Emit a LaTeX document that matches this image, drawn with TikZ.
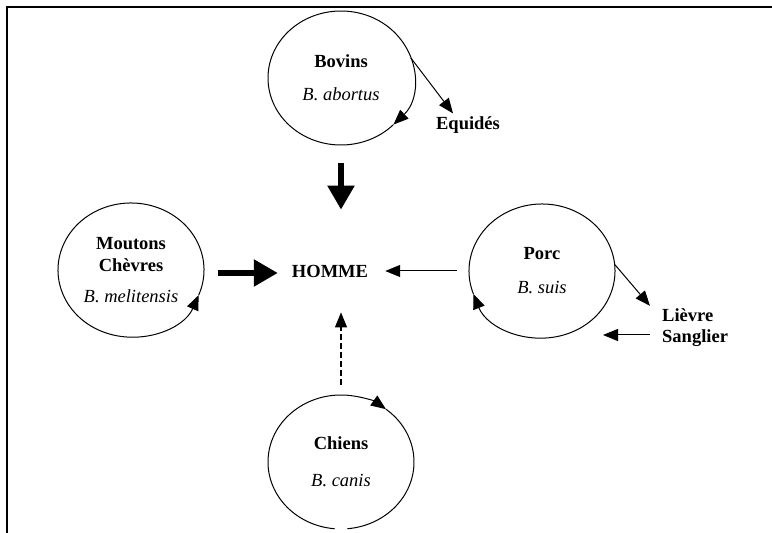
\documentclass[tikz,border=0pt]{standalone}
\usepackage{fontspec}
\setmainfont{Liberation Serif}
\usetikzlibrary{arrows.meta,shapes.geometric,positioning}
\newcommand{\species}[1]{{\mdseries\itshape #1}}

\begin{document}
\begin{tikzpicture}[x=1pt,y=1pt,
    host/.style={ellipse,minimum width=146pt,minimum height=134pt,inner sep=0pt,align=center,
                 font=\fontsize{18.5}{22}\selectfont\bfseries},
    lbl/.style={inner sep=3pt,font=\fontsize{18.5}{21}\selectfont\bfseries},
    ring/.style={line width=1pt,-{Triangle[length=15pt,width=12pt]}},
    bigarrow/.style={line width=5.5pt,-{Triangle[length=24pt,width=26pt]}},
    smallarrow/.style={line width=1pt,-{Triangle[length=15pt,width=12pt]}}]
                        \useasboundingbox (0,0) rectangle (772,533);
                        \draw[line width=2.5pt] (7,0) -- (7,526) -- (772,526);
                        % les reservoirs
                        \node[host] (bovins) at (341,455) {Bovins\\[11pt]\species{B. abortus}};
                        \node[host] (moutons) at (131,263) {Moutons\\Chèvres\\[9pt]\species{B. melitensis}};
                        \node[host] (porc) at (542,262) {Porc\\[12pt]\species{B. suis}};
                        \node[host] (chiens) at (341,71) {Chiens\\[15pt]\species{B. canis}};
                        \node[lbl] (homme) at (330,262) {HOMME};
                        \node[lbl] (equides) at (468,408) {Equidés};
                        \node[lbl,align=left,anchor=west] (lievre) at (659,205) {Lièvre\\Sanglier};
                        % cycles
                        \draw[ring] (bovins.center) ++(316:73 and 67) arc[start angle=316,end angle=-44,x radius=73,y radius=67];
                        \draw[ring] (moutons.center) ++(-382:73 and 67) arc[start angle=-382,end angle=-22,x radius=73,y radius=67];
                        \draw[ring] (porc.center) ++(560:73 and 67) arc[start angle=560,end angle=200,x radius=73,y radius=67];
                        \draw[ring] (chiens.center) ++(265:73 and 67) arc[start angle=265,end angle=52,x radius=73,y radius=67];
                        \draw[line width=1pt] (chiens.center) ++(52:73 and 67) arc[start angle=52,end angle=-85,x radius=73,y radius=67];
                        % transmission
                        \draw[bigarrow,shorten <=18pt,shorten >=52pt] (bovins.south) -- (bovins.south |- homme.north);
                        \draw[bigarrow,shorten <=14pt,shorten >=11pt] ([yshift=-3pt]moutons.east) -- ([yshift=-3pt]moutons.east -| homme.west);
                        \draw[smallarrow,shorten <=12pt,shorten >=14pt] (porc.west) -- (porc.west -| homme.east);
                        \draw[smallarrow,line width=1.2pt,dash pattern=on 6pt off 3pt,shorten <=10pt,shorten >=32pt] (chiens.north) -- (chiens.north |- homme.south);
                        \draw[smallarrow] (bovins.16) -- ([xshift=-15pt]equides.north);
                        \draw[smallarrow] (porc.5) -- ([xshift=-9pt]lievre.north west);
                        \draw[smallarrow] ([shift={(-9pt,-7pt)}]lievre.west) -- ++(-47pt,0);
                    \end{tikzpicture}
\end{document}
